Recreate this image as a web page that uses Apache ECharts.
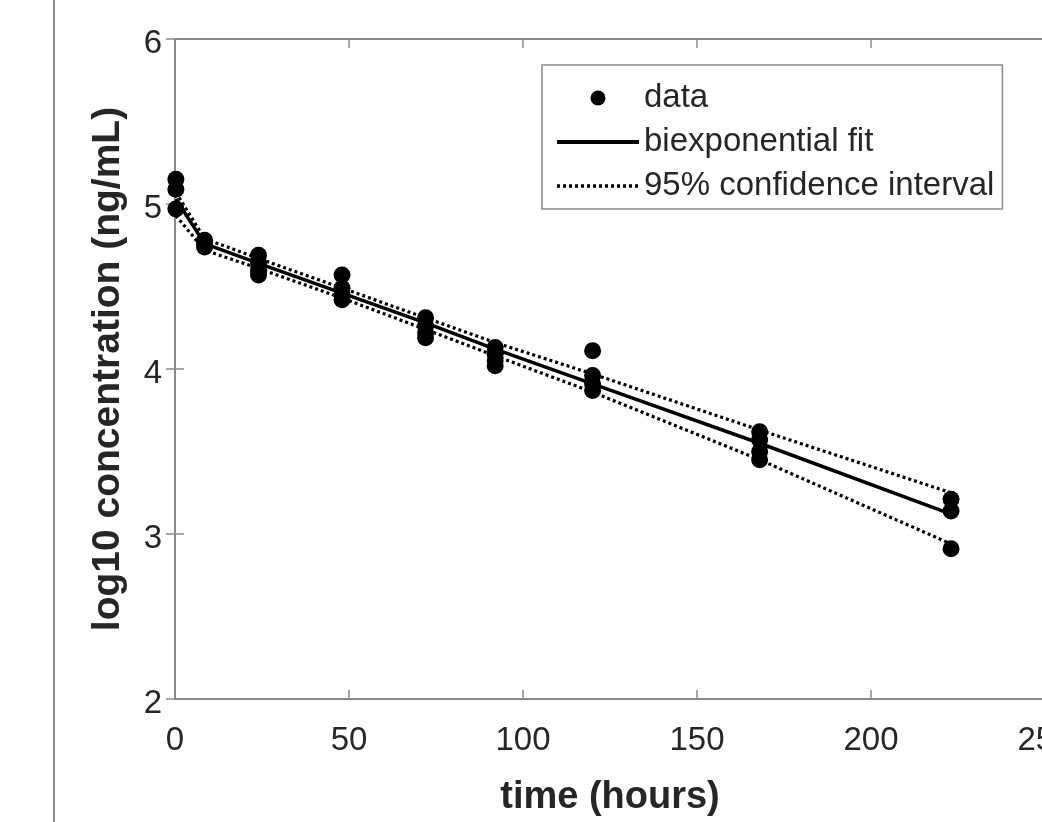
<!DOCTYPE html>
<html>
<head>
<meta charset="utf-8">
<script src="https://cdn.jsdelivr.net/npm/echarts@6/dist/echarts.min.js"></script>
<style>
html,body{margin:0;padding:0;background:#fff;overflow:hidden;width:1042px;height:822px;}
#c{width:1100px;height:822px;}
</style>
</head>
<body>
<div id="c"></div>
<script>
// ---- data ----
const dataTimes = [0.25,0.25,0.25, 8.5,8.5,8.5, 24,24,24,24, 48,48,48,48, 72,72,72,72, 92,92,92,92, 120,120,120,120, 168,168,168,168, 223,223,223];
const dataValues = [5.15,5.09,4.97, 4.78,4.76,4.74, 4.69,4.64,4.60,4.57, 4.57,4.49,4.45,4.42, 4.31,4.26,4.22,4.19, 4.13,4.09,4.05,4.02, 4.11,3.96,3.91,3.87, 3.62,3.57,3.50,3.45, 3.21,3.14,2.91];
const fitTimes = [0.25, 8.5, 24, 48, 72, 92, 120, 168, 223];
const fitValues = [5.03, 4.76, 4.64, 4.46, 4.28, 4.12, 3.91, 3.55, 3.12];
const ciUpper = [5.07, 4.79, 4.67, 4.49, 4.31, 4.16, 3.97, 3.63, 3.25];
const ciLower = [4.93, 4.72, 4.61, 4.43, 4.24, 4.08, 3.86, 3.45, 2.94];
const xTicks = [0, 50, 100, 150, 200, 250];
const yTicks = [2, 3, 4, 5, 6];
const labels = {x: 'time (hours)', y: 'log10 concentration (ng/mL)', data: 'data', fit: 'biexponential fit', ci: '95% confidence interval'};

const zip = (a, b) => a.map((v, i) => [v, b[i]]);
const FONT = 'Liberation Sans, Arial, Helvetica, sans-serif';
const axisGray = '#8a8a8a';
const txt = '#262626';

const chart = echarts.init(document.getElementById('c'), null, {renderer: 'canvas'});
const axisCommon = {
  type: 'value',
  axisLine: {show: true, lineStyle: {color: axisGray, width: 2}},
  axisTick: {show: true, inside: true, length: 9, lineStyle: {color: axisGray, width: 1.5}},
  splitLine: {show: false}
};
const dotted = [3, 3];
chart.setOption({
  animation: false,
  backgroundColor: '#fff',
  grid: {left: 175, top: 39, right: 55, bottom: 121},
  graphic: [{type: 'line', shape: {x1: 54, y1: 0, x2: 54, y2: 822}, style: {stroke: '#8a8a8a', lineWidth: 2}}],
  legend: {
    orient: 'vertical', left: 542, top: 65,
    padding: [16, 8, 6, 13], itemGap: 10,
    itemWidth: 82, itemHeight: 15,
    backgroundColor: '#fff', borderColor: '#8a8a8a', borderWidth: 1.5,
    textStyle: {fontFamily: FONT, fontSize: 33, color: txt, lineHeight: 34},
    data: [
      {name: labels.data},
      {name: labels.fit, lineStyle: {color: '#000', width: 4}},
      {name: labels.ci, lineStyle: {color: '#000', width: 3.5, type: dotted}}
    ]
  },
  xAxis: [
    Object.assign({}, axisCommon, {
      min: 0, max: 250, interval: 50, position: 'bottom',
      axisLabel: {fontFamily: FONT, fontSize: 33, color: txt, margin: 25,
        customValues: xTicks},
      axisTick: Object.assign({}, axisCommon.axisTick, {customValues: xTicks}),
      name: labels.x, nameLocation: 'middle', nameGap: 80,
      nameTextStyle: {fontFamily: FONT, fontSize: 38, fontWeight: 'bold', color: txt}
    }),
    Object.assign({}, axisCommon, {min: 0, max: 250, interval: 50, position: 'top', axisLabel: {show: false}})
  ],
  yAxis: [
    Object.assign({}, axisCommon, {
      min: 2, max: 6, interval: 1, position: 'left',
      axisLabel: {fontFamily: FONT, fontSize: 33, color: txt, margin: 13,
        customValues: yTicks,
        formatter: v => '{a|' + v + '}',
        rich: {a: {fontFamily: FONT, fontSize: 33, color: txt, padding: [9, 0, 0, 0]}}},
      axisTick: Object.assign({}, axisCommon.axisTick, {customValues: yTicks}),
      name: labels.y, nameLocation: 'middle', nameGap: 47, nameRotate: 90,
      nameTextStyle: {fontFamily: FONT, fontSize: 39, fontWeight: 'bold', color: txt}
    }),
    Object.assign({}, axisCommon, {min: 2, max: 6, interval: 1, position: 'right', axisLabel: {show: false}})
  ],
  series: [
    {name: labels.data, type: 'scatter', symbol: 'circle', symbolSize: 17,
     itemStyle: {color: '#000', opacity: 1}, data: zip(dataTimes, dataValues), z: 2},
    {name: labels.fit, type: 'line', symbol: 'none', lineStyle: {color: '#000', width: 3.5},
     itemStyle: {color: 'rgba(0,0,0,0)'}, data: zip(fitTimes, fitValues), z: 3},
    {name: labels.ci, type: 'line', symbol: 'none', lineStyle: {color: '#000', width: 3.2, type: dotted},
     itemStyle: {color: 'rgba(0,0,0,0)'}, data: zip(fitTimes, ciUpper), z: 3},
    {name: labels.ci, type: 'line', symbol: 'none', lineStyle: {color: '#000', width: 3.2, type: dotted},
     itemStyle: {color: 'rgba(0,0,0,0)'}, data: zip(fitTimes, ciLower), z: 3}
  ]
});
</script>
</body>
</html>
